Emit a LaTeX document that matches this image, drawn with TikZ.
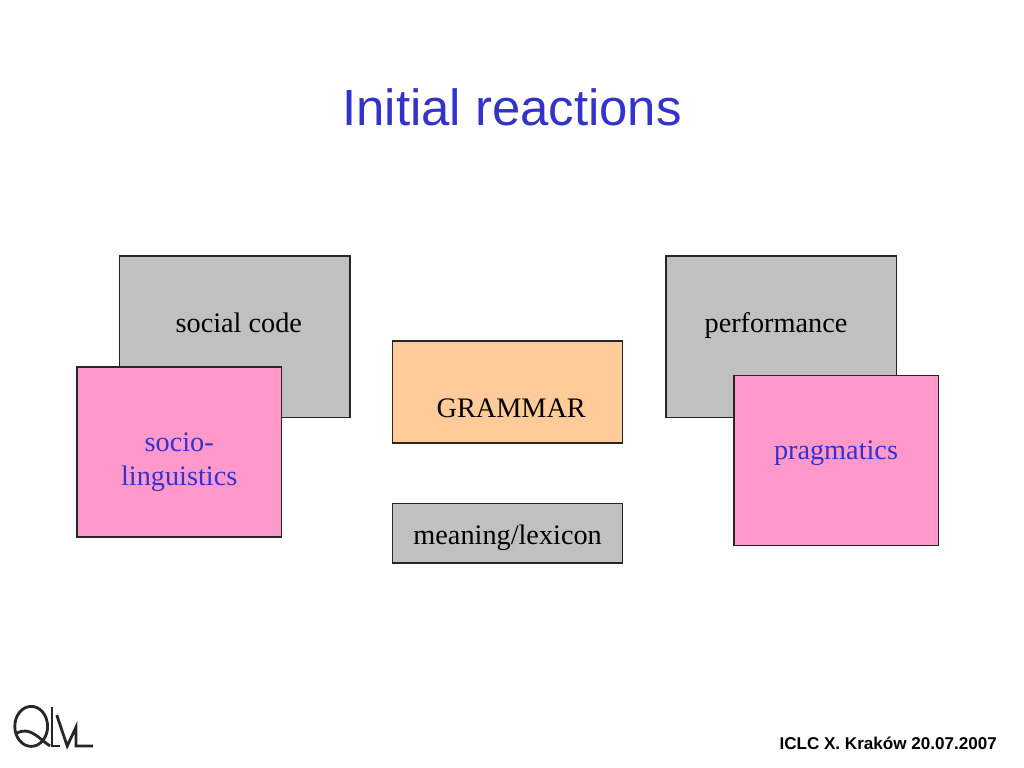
\documentclass[tikz,border=0pt]{standalone}
\usepackage{fontspec}
\setmainfont{Liberation Serif}
\newfontfamily\headfont{Liberation Sans}
\usepackage{xcolor}
\usetikzlibrary{positioning}
\definecolor{titleblue}{HTML}{3333CC}
\definecolor{boxgrey}{HTML}{C0C0C0}
\definecolor{boxpink}{HTML}{FF99CC}
\definecolor{boxorange}{HTML}{FFCC99}
\tikzset{
  box/.style={draw=black!85,line width=0.8pt,inner sep=0pt},
  greybox/.style={box,fill=boxgrey},
  pinkbox/.style={box,fill=boxpink},
  orangebox/.style={box,fill=boxorange},
  word/.style={inner sep=0pt,anchor=base,font=\fontsize{20.1}{24.2}\selectfont},
  logoline/.style={line width=2pt,black!85}
}

\begin{document}
\begin{tikzpicture}
\useasboundingbox (0,0) rectangle (25.6,19.2);
\node [word,font=\headfont\fontsize{36.2}{40}\selectfont,text=titleblue] (title) at (12.8,16.06) {Initial reactions};

\node [greybox,minimum width=5.76cm,minimum height=4.04cm] (socialcode) at (5.87,10.78) {};
\node [pinkbox,minimum width=5.11cm,minimum height=4.25cm] (socio) at (4.48,7.90) {};
\node [orangebox,minimum width=5.76cm,minimum height=2.55cm] (grammar) at (12.69,9.40) {};
\node [greybox,minimum width=5.76cm,minimum height=1.49cm] (meaning) at (12.69,5.87) {};
\node [greybox,minimum width=5.76cm,minimum height=4.04cm] (performance) at (19.53,10.78) {};
\node [pinkbox,minimum width=5.12cm,minimum height=4.26cm] (pragmatics) at (20.91,7.69) {};

\node [word] (socialtext) at (5.97,10.88) {social code};
\node [word,text=titleblue,align=center] (sociotext) at (4.48,7.05) {socio-\\linguistics};
\node [word] (grammartext) at (12.78,8.76) {GRAMMAR};
\node [word] (meaningtext) at (12.69,5.58) {meaning/lexicon};
\node [word] (performancetext) at (19.4,10.88) {performance};
\node [word,text=titleblue] (pragmaticstext) at (20.9,7.7) {pragmatics};

\node [inner sep=0pt,anchor=base east,font=\headfont\bfseries\fontsize{12.15}{14}\selectfont] (footer) at (24.93,0.45) {ICLC X. Krak\'ow 20.07.2007};

% logo
\draw [logoline] (0.78,1.04) ellipse (0.41 and 0.5);
\draw [logoline] (0.42,0.87) .. controls (0.75,1.05) and (0.95,0.75) .. (1.25,0.55);
\draw [logoline] (1.3,1.52) -- (1.3,0.55) -- (1.5,0.55);
\draw [logoline] (1.42,1.32) -- (1.68,0.55) -- (1.9,1.02) -- (1.9,0.55) -- (2.33,0.55);
\end{tikzpicture}
\end{document}
